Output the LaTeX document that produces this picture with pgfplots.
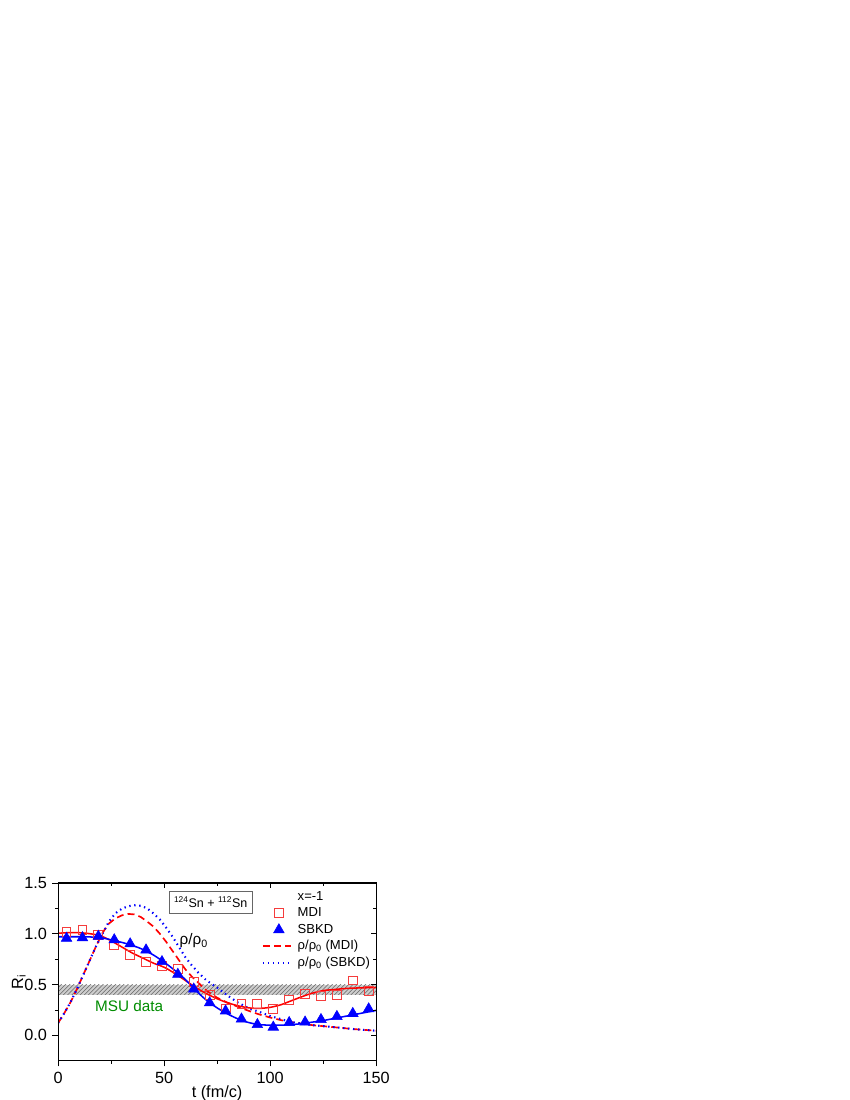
\documentclass[border=0pt]{standalone}
\usepackage{fontspec}
\setmainfont{Liberation Sans}
\usepackage{pgfplots}
\pgfplotsset{compat=1.18}
\usetikzlibrary{patterns}

\definecolor{msugreen}{RGB}{0,140,0}
\definecolor{bandgray}{RGB}{205,205,205}
\definecolor{sqred}{RGB}{245,60,60}

\pgfplotsset{
    lineleg/.style={legend image code/.code={\draw[##1] (0pt,0pt) -- (20pt,0pt);}},
    markleg/.style={legend image code/.code={\draw[##1] plot coordinates {(11.5pt,0pt)};}},
}

% simulation points (MDI, SBKD)
\pgfplotstableread{
t     mdi    sbkd
4     1.02   0.955
11.5  1.04   0.96
19    0.99   0.975
26.5  0.89   0.94
34    0.79   0.90
41.5  0.72   0.84
49    0.68   0.725
56.5  0.65   0.60
64    0.525  0.455
71.5  0.40   0.32
79    0.26   0.24
86.5  0.305  0.16
94    0.305  0.105
101.5 0.255  0.08
109   0.345  0.125
116.5 0.41   0.13
124   0.39   0.155
131.5 0.40   0.185
139   0.54   0.215
146.5 0.435  0.26
}\points

% fits
\pgfplotstableread{
t    mdi    sbkd
0    1.005  0.97
5    1.01   0.97
10   1.01   0.97
15   1.00   0.968
20   0.98   0.962
25   0.93   0.94
30   0.87   0.915
35   0.81   0.885
40   0.76   0.845
45   0.71   0.79
50   0.67   0.72
55   0.61   0.64
60   0.54   0.55
65   0.47   0.44
70   0.41   0.345
75   0.36   0.27
80   0.32   0.21
85   0.29   0.16
90   0.27   0.125
95   0.265  0.105
100  0.275  0.10
105  0.30   0.10
110  0.34   0.105
115  0.38   0.115
120  0.415  0.13
125  0.44   0.145
130  0.45   0.165
135  0.46   0.185
140  0.465  0.205
145  0.468  0.225
150  0.47   0.245
}\fits

% density rho/rho0
\pgfplotstableread{
t    mdi    sbkd
0    0.12   0.12
3    0.22   0.22
6    0.33   0.33
9    0.46   0.46
12   0.60   0.60
15   0.74   0.74
18   0.88   0.88
21   1.01   1.00
24   1.10   1.12
27   1.15   1.20
30   1.18   1.245
33   1.195  1.27
36   1.19   1.28
39   1.165  1.275
42   1.12   1.25
45   1.07   1.20
48   1.00   1.14
51   0.92   1.06
54   0.83   0.97
57   0.74   0.87
60   0.65   0.77
63   0.58   0.69
66   0.52   0.62
70   0.44   0.54
75   0.37   0.47
80   0.32   0.39
85   0.28   0.32
90   0.24   0.265
95   0.205  0.23
100  0.175  0.19
105  0.15   0.16
110  0.13   0.13
115  0.115  0.115
120  0.10   0.10
130  0.08   0.08
140  0.06   0.06
150  0.045  0.045
}\dens

\begin{document}
\begin{tikzpicture}
\path[use as bounding box] (0,0) rectangle (612pt,792pt);

\begin{axis}[
    at={(41.8pt,28.3pt)}, anchor=south west,
    scale only axis,
    width=229pt, height=128pt,
    xmin=0, xmax=150, ymin=-0.25, ymax=1.5,
    xtick={0,50,100,150}, ytick={0,0.5,1,1.5},
    minor x tick num=1, minor y tick num=1,
    xtick pos=left, ytick pos=left,
    tick align=outside,
    major tick length=4pt, minor tick length=2.2pt,
    tick style={black, line width=0.5pt},
    axis line style={line width=0.6pt},
    ticklabel style={font=\fontsize{11.7}{13}\selectfont},
    xticklabel style={yshift=-1pt},
    yticklabel style={xshift=-0.5pt},
    /pgf/number format/assume math mode=true,
    yticklabel style={/pgf/number format/.cd, fixed, fixed zerofill, precision=1},
    xlabel={t (fm/c)}, ylabel={R\textsubscript{i}},
    label style={font=\fontsize{11.7}{13}\selectfont},
    xlabel style={yshift=6pt},
    ylabel style={at={(ticklabel cs:0.445)}, inner sep=0.5pt, yshift=-5pt},
    legend style={draw=none, fill=none, at={(rel axis cs:0.64,0.959)}, anchor=north west,
        font=\fontsize{9.4}{11}\selectfont, inner sep=0pt, row sep=2.9pt,
        nodes={inner sep=0pt, text height=7pt, text depth=2pt},
        /tikz/every odd column/.append style={column sep=4.3pt}},
    legend cell align=left,
    lineleg,
]
% MSU band
\addplot[forget plot, draw=none, fill=bandgray,
    postaction={pattern=north east lines, pattern color=black!60}]
    coordinates {(0,0.40) (150,0.40) (150,0.50) (0,0.50)} -- cycle;

\addlegendimage{empty legend}
\addlegendentry{x=-1}

\addplot[forget plot, red, line width=1.2pt, dash pattern=on 5pt off 3pt]
    table[x=t, y=mdi] {\dens};
\addplot[forget plot, blue, line width=1.5pt, dash pattern=on 1pt off 2.6pt]
    table[x=t, y=sbkd] {\dens};

\addplot[forget plot, red, line width=1.1pt, smooth] table[x=t, y=mdi] {\fits};
\addplot[forget plot, blue, line width=1.1pt, smooth] table[x=t, y=sbkd] {\fits};

\addplot[only marks, mark=square, mark size=3.2pt, sqred, mark options={line width=0.7pt}, markleg]
    table[x=t, y=mdi] {\points};
\addlegendentry{MDI}
\addplot[only marks, mark=triangle*, mark size=4.4pt, blue, markleg]
    table[x=t, y=sbkd] {\points};
\addlegendentry{SBKD}

\addlegendimage{red, line width=1.2pt, dash pattern=on 5pt off 3pt}
\addlegendentry{ρ/ρ\textsubscript{0} (MDI)}
\addlegendimage{blue, line width=1.5pt, dash pattern=on 1pt off 2.6pt}
\addlegendentry{ρ/ρ\textsubscript{0} (SBKD)}

\node[draw=black!60, fill=white, line width=0.5pt, inner xsep=3.5pt, inner ysep=4pt,
    font=\fontsize{9}{10}\selectfont] at (axis cs:72,1.31)
    {\textsuperscript{124}Sn + \textsuperscript{112}Sn};
\node[font=\fontsize{11}{13}\selectfont] at (axis cs:64,0.93) {ρ/ρ\textsubscript{0}};
\node[font=\fontsize{11}{13}\selectfont, text=msugreen] at (axis cs:33.5,0.29) {MSU data};
\end{axis}

% mirrored inward ticks on top and right
\begin{axis}[
    at={(41.8pt,28.3pt)}, anchor=south west,
    scale only axis,
    width=229pt, height=128pt,
    xmin=0, xmax=150, ymin=-0.25, ymax=1.5,
    xtick={0,50,100,150}, ytick={0,0.5,1,1.5},
    minor x tick num=1, minor y tick num=1,
    xtick pos=right, ytick pos=right,
    tick align=inside,
    major tick length=4pt, minor tick length=2.2pt,
    tick style={black, line width=0.5pt},
    axis line style={line width=0.6pt},
    xticklabels={}, yticklabels={},
]
\end{axis}
\end{tikzpicture}
\end{document}
